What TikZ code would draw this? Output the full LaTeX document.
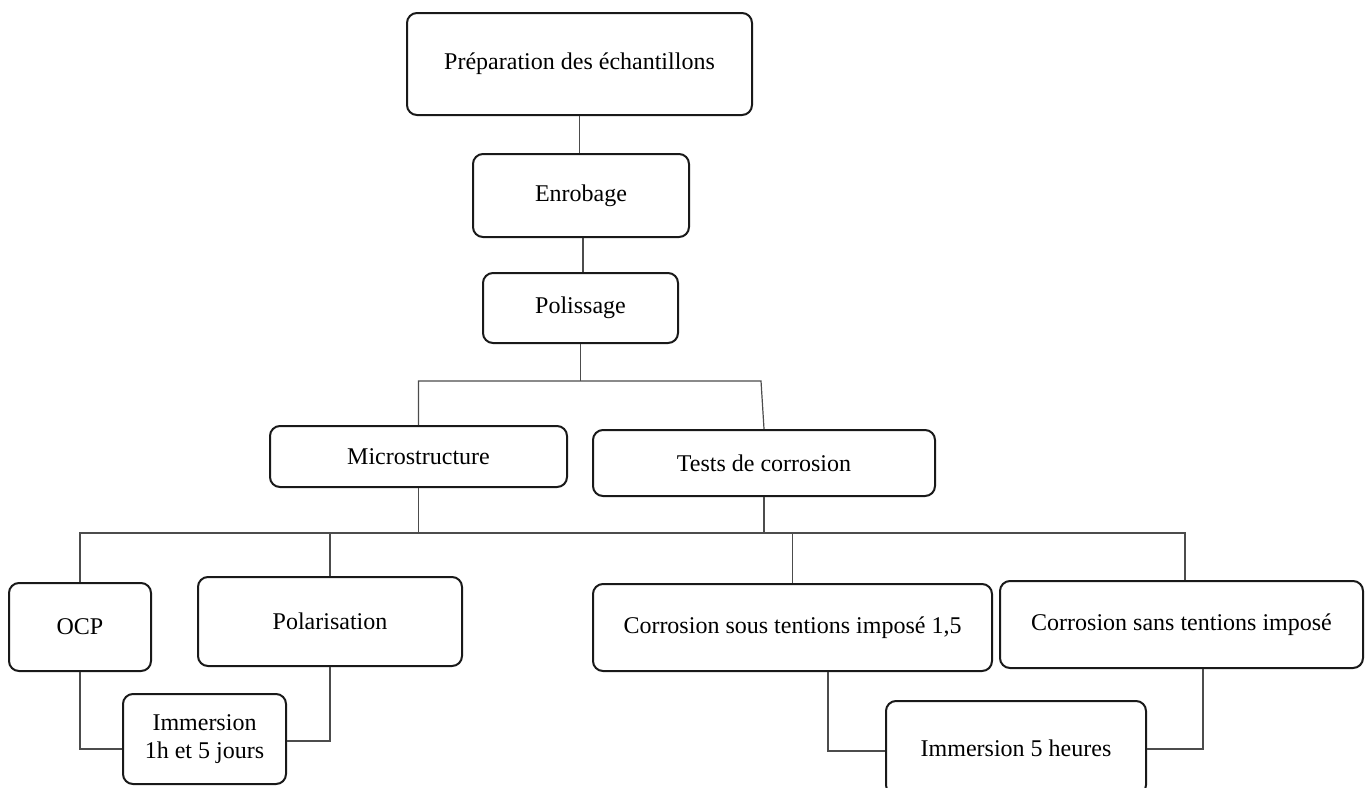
\documentclass[tikz,border=0pt]{standalone}
\usepackage{fontspec}
\setmainfont{Liberation Serif}
\begin{document}
\begin{tikzpicture}[x=0.5pt,y=-0.5pt,
  box/.style={draw=black!90, line width=1pt, rounded corners=5pt, inner sep=0pt, align=center,
    font=\fontsize{12}{14}\selectfont, text=black},
  link/.style={draw=black!70, line width=0.6pt}]
\useasboundingbox (0,0) rectangle (1370,787);
% boxes (size in pt = px/2)
\node[box, minimum width=172.5pt, minimum height=51pt] (prep) at (579.5,64) {Préparation des échantillons};
\node[box, minimum width=108pt, minimum height=41.5pt] (enrob) at (581,195.5) {Enrobage};
\node[box, minimum width=97.5pt, minimum height=35pt] (polis) at (580.5,308) {Polissage};
\node[box, minimum width=148.5pt, minimum height=30.5pt] (micro) at (418.5,456.5) {Microstructure};
\node[box, minimum width=171pt, minimum height=33pt] (tests) at (764,463) {Tests de corrosion};
\node[box, minimum width=71pt, minimum height=44pt] (ocp) at (80,627) {OCP};
\node[box, minimum width=132pt, minimum height=44.5pt] (polar) at (330,621.5) {Polarisation};
\node[box, minimum width=81.5pt, minimum height=45pt] (imm1) at (204.5,739) {Immersion\\1h et 5 jours};
\node[box, minimum width=199.5pt, minimum height=43.5pt] (csous) at (792.5,627.5) {Corrosion sous tentions imposé 1,5};
\node[box, minimum width=181.5pt, minimum height=43.5pt] (csans) at (1181.5,624.5) {Corrosion sans tentions imposé};
\node[box, minimum width=130pt, minimum height=47pt] (imm5) at (1016,748) {Immersion 5 heures};
% helper coordinates
\coordinate (h1) at (0,381);
\coordinate (h2) at (0,533);
\coordinate (c1) at (79,749);
\coordinate (c2) at (330,741);
\coordinate (v1) at (828,751);
\coordinate (v2) at (1203,749);
% connectors
\draw[link] (prep.south) -- (prep.south |- enrob.north);
\draw[link] ([xshift=1pt]enrob.south) -- ([xshift=1pt]enrob.south |- polis.north);
\draw[link] (polis.south) -- (polis.south |- h1);
\draw[link] (micro.north) |- ([xshift=-1.5pt]tests.north |- h1) -- (tests.north);
\draw[link] (micro.south) -- (micro.south |- h2);
\draw[link] (tests.south) -- (tests.south |- h2);
\draw[link] (ocp.north) |- ([xshift=1.75pt]csans.north |- h2) -- ([xshift=1.75pt]csans.north);
\draw[link] (polar.north) -- (polar.north |- h2);
\draw[link] (csous.north) -- (csous.north |- h2);
\draw[link] (ocp.south) |- (imm1.west |- c1);
\draw[link] (polar.south) |- (imm1.east |- c2);
\draw[link] (csous.south -| v1) |- (imm5.west |- v1);
\draw[link] (csans.south -| v2) |- (imm5.east |- v2);
\end{tikzpicture}
\end{document}
